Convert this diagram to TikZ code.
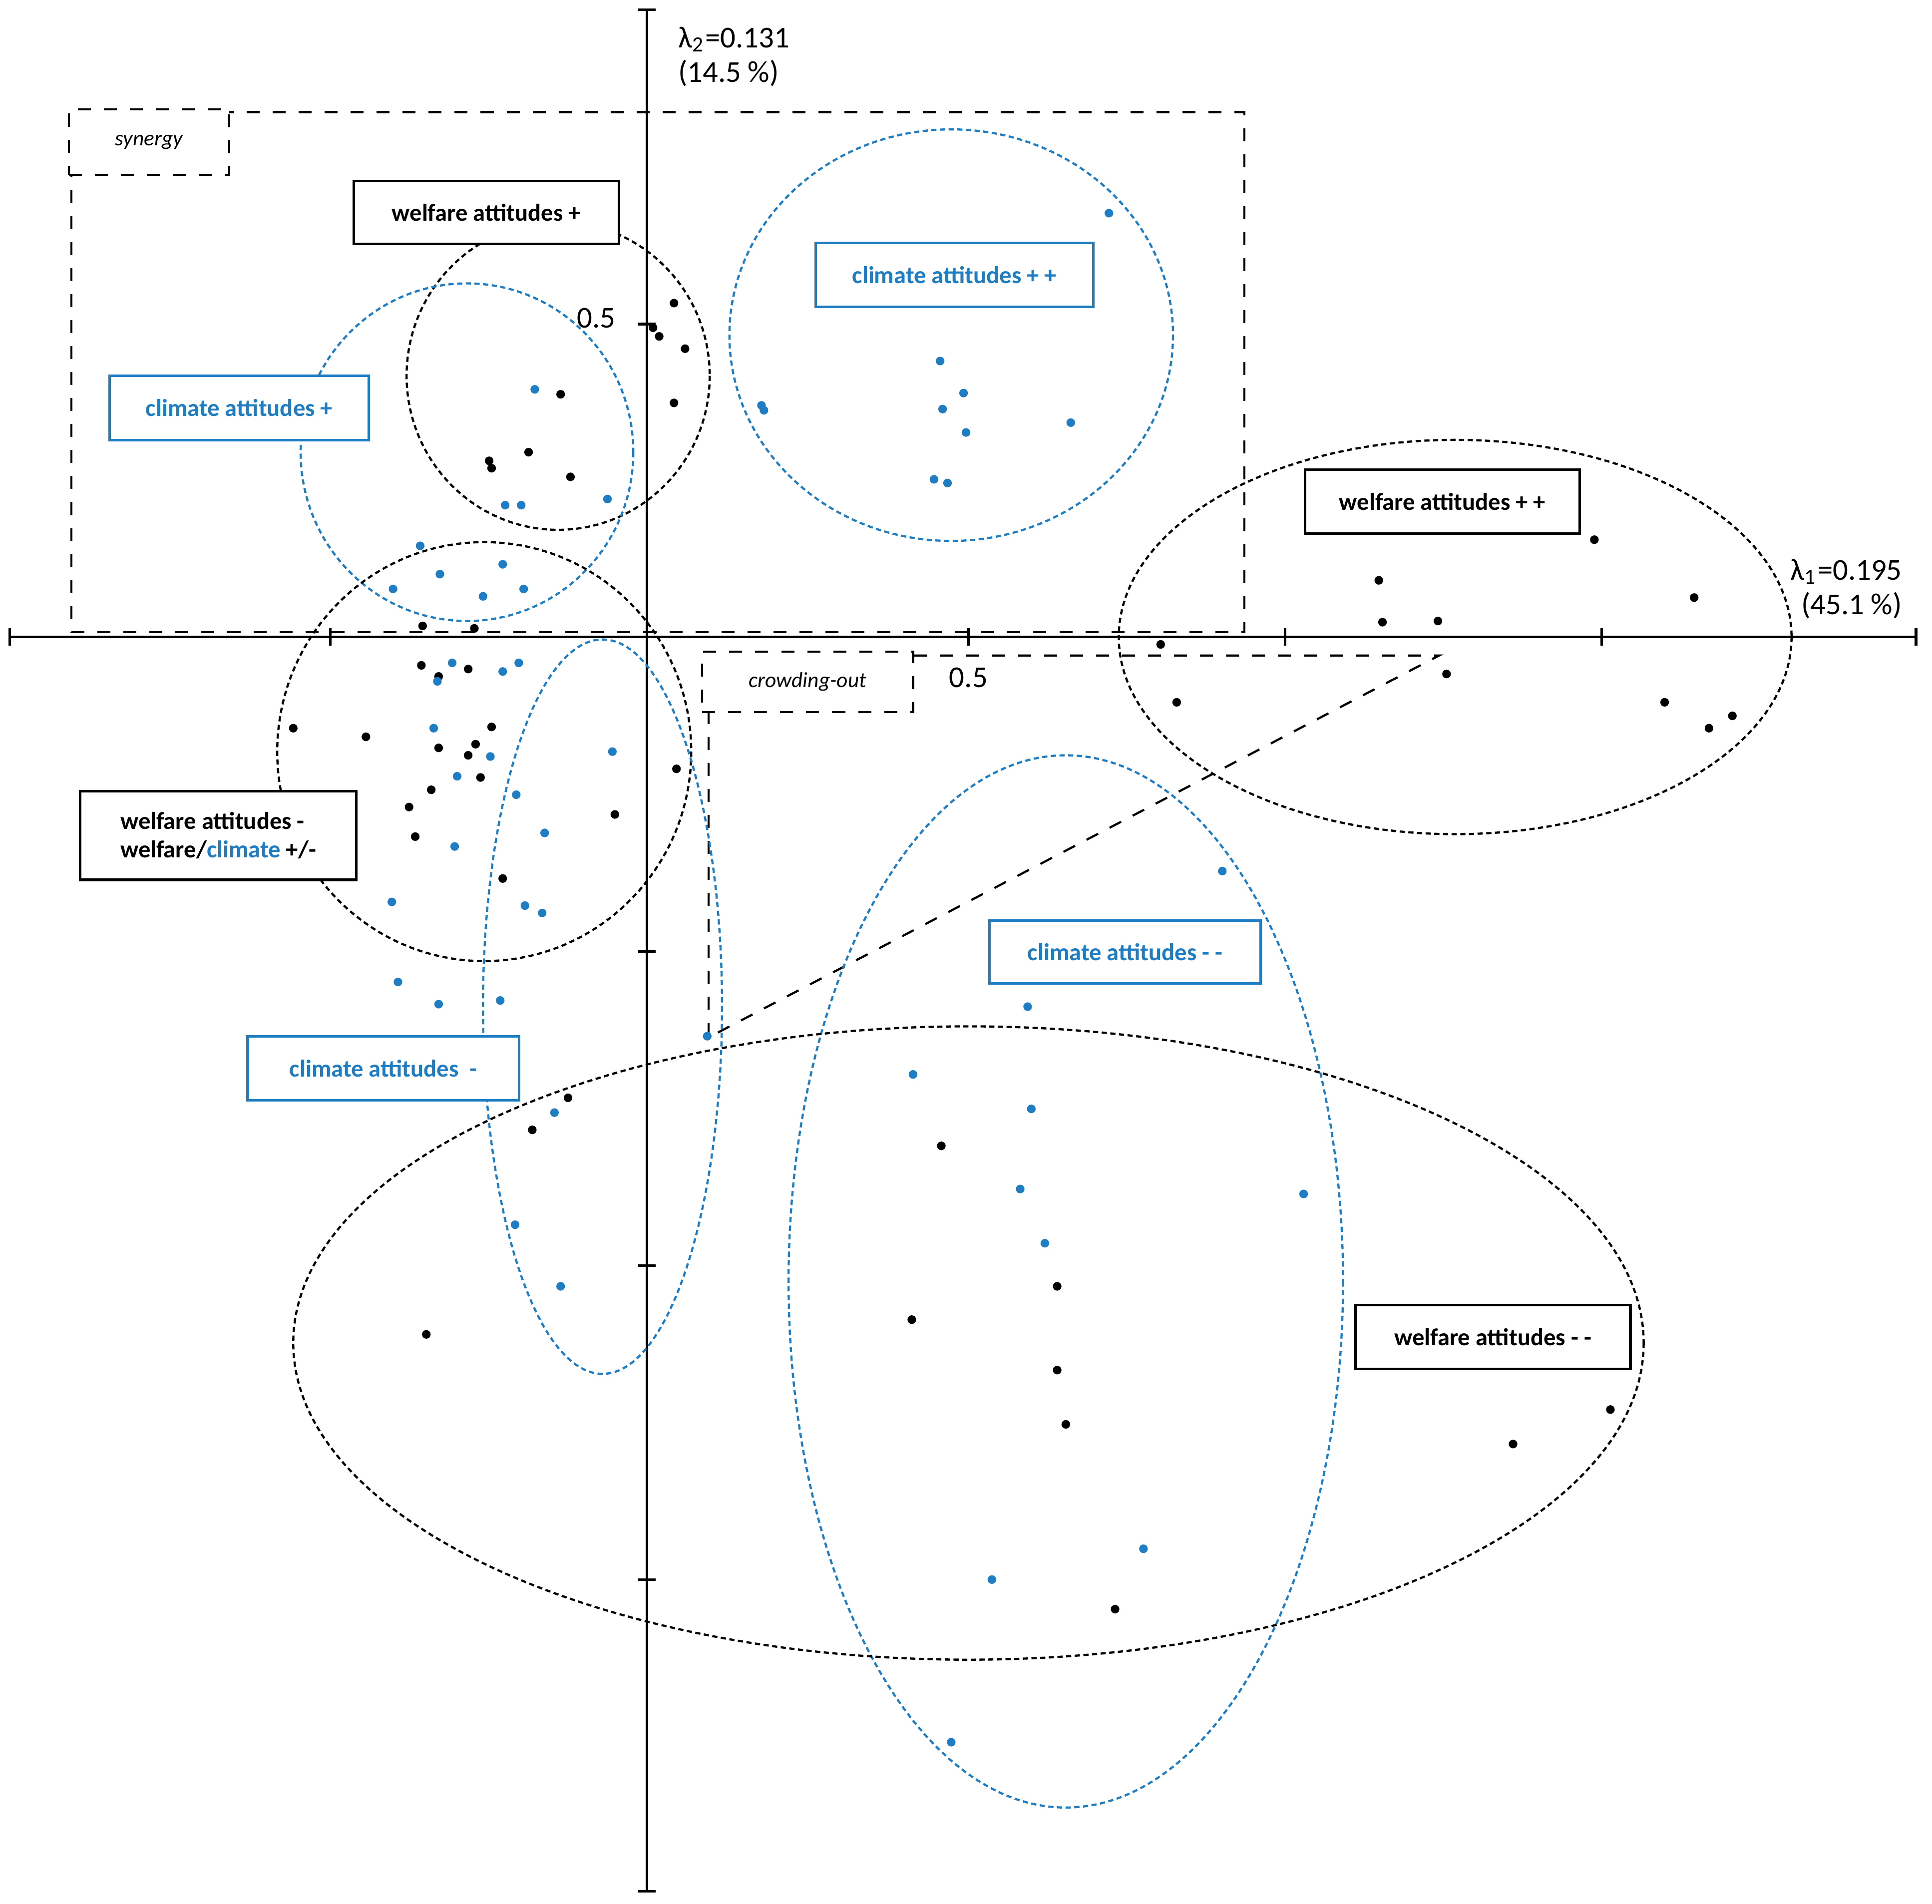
\documentclass[tikz,border=0pt]{standalone}
\usepackage{fontspec}
\setmainfont{Carlito}
\begin{document}
\definecolor{cb}{RGB}{30,125,195}
\begin{tikzpicture}[x=0.01cm,y=-0.01cm,
 bell/.style={black,dash pattern=on 1.2pt off 0.8pt,line width=0.5pt},
 blell/.style={cb,dash pattern=on 1.2pt off 0.8pt,line width=0.5pt},
 bbox/.style={draw=black,line width=0.6pt,fill=white,font=\fontsize{5.6}{6.5}\selectfont\bfseries,anchor=north west,inner sep=0pt},
 blbox/.style={draw=cb,line width=0.6pt,fill=white,text=cb,font=\fontsize{5.6}{6.5}\selectfont\bfseries,anchor=north west,inner sep=0pt},
 dbox/.style={draw=black,dashed,line width=0.5pt,fill=white,font=\fontsize{5}{6}\selectfont\itshape,anchor=north west,inner sep=0pt},
 ax/.style={font=\fontsize{7}{8}\selectfont},
 bd/.style={fill=black,circle,inner sep=0pt,minimum size=0.07cm},
 cd/.style={fill=cb,circle,inner sep=0pt,minimum size=0.07cm}]
\useasboundingbox (0,0) rectangle (1568,1545);
% axes
\draw[line width=0.6pt] (8,517) -- (1555,517);
\draw[line width=0.6pt] (525,8) -- (525,1535);
\foreach \x in {268,786,1043,1300} \draw[line width=0.6pt] (\x,510) -- (\x,524);
\foreach \y in {263,772,1027,1282} \draw[line width=0.6pt] (518,\y) -- (532,\y);
\draw[line width=0.6pt] (518,8) -- (532,8) (518,1535) -- (532,1535) (8,510) -- (8,524) (1555,510)--(1555,524);
\node[ax,anchor=east] (t1) at (512,258) {0.5};
\node[ax] (t2) at (786,550) {0.5};
\node[ax,anchor=west,align=left] (l2) at (538,46) {λ\textsubscript{2}=0.131\\(14.5 \%)};
\node[ax,anchor=east,align=right] (l1) at (1556,478) {λ\textsubscript{1}=0.195\\(45.1 \%)};
% synergy
\draw[dashed,line width=0.5pt] (58,91) rectangle (1010,513);
\node[dbox,minimum width=1.30cm,minimum height=0.53cm] (syn) at (55,88) {synergy};
% crowding out
\coordinate (c1) at (1168,532);
\coordinate (c2) at (575,842);
\node[dbox,minimum width=1.71cm,minimum height=0.49cm] (co) at (569,528) {crowding-out};
\draw[dashed,line width=0.5pt] (co.north east |- 0,532) -- (c1) -- (c2);
\draw[dashed,line width=0.5pt] (575,577) -- (c2);
% ellipses
\draw[bell] (453,305) ellipse [x radius=123,y radius=125];
\draw[blell] (379,367) ellipse [x radius=135,y radius=137];
\draw[blell] (772,272) ellipse [x radius=180,y radius=167];
\draw[bell] (1181,517) ellipse [x radius=273,y radius=160];
\draw[bell] (393,610) ellipse [x radius=168,y radius=170];
\draw[blell] (489,817) ellipse [x radius=97,y radius=298];
\draw[blell] (865,1040) ellipse [x radius=225,y radius=427];
\draw[bell] (786,1090) ellipse [x radius=548,y radius=257];
% points
\foreach \p [count=\i] in {(547,246),(530,266),(535,273),(556,283),(547,327),(455,320),(397,374),(399,380),(429,367),(463,387),(1294,438),(1119,471),(1375,485),(1122,505),(1167,504),(942,523),(1174,547),(955,570),(1351,570),(1406,581),(1387,591),(343,508),(385,510),(342,540),(356,549),(380,543),(238,591),(297,598),(399,590),(356,607),(386,604),(380,613),(390,631),(549,624),(350,641),(332,655),(499,661),(337,679),(408,713),(461,891),(432,917),(764,930),(346,1083),(858,1044),(740,1071),(858,1112),(865,1156),(1307,1144),(1228,1172),(905,1306)}
 \node[bd] (b\i) at \p {};
\foreach \p [count=\i] in {(900,173),(434,316),(618,329),(620,333),(763,293),(782,319),(765,332),(784,351),(869,343),(758,389),(769,392),(410,410),(423,410),(493,405),(341,443),(357,466),(408,458),(319,478),(392,484),(425,478),(367,538),(408,545),(421,538),(355,553),(352,591),(398,614),(371,630),(497,610),(419,645),(442,676),(369,687),(318,732),(426,735),(440,741),(323,797),(356,815),(406,812),(992,707),(834,817),(574,841),(741,872),(837,900),(450,903),(828,965),(1058,969),(848,1009),(418,994),(455,1044),(928,1257),(805,1282),(772,1414)}
 \node[cd] (c\i) at \p {};
% labels
\node[bbox,minimum width=2.15cm,minimum height=0.51cm] (w1) at (286,146) {welfare attitudes +};
\node[blbox,minimum width=2.25cm,minimum height=0.52cm] (k2) at (661,196) {climate attitudes + +};
\node[blbox,minimum width=2.10cm,minimum height=0.52cm] (k1) at (88,304) {climate attitudes +};
\node[bbox,minimum width=2.23cm,minimum height=0.52cm] (w2) at (1058,380) {welfare attitudes + +};
\node[bbox,minimum width=2.24cm,minimum height=0.72cm,align=left] (w3) at (64,641) {welfare attitudes -\\welfare/\textcolor{cb}{climate} +/-};
\node[blbox,minimum width=2.20cm,minimum height=0.51cm] (k4) at (802,746) {climate attitudes -{} -};
\node[blbox,minimum width=2.20cm,minimum height=0.52cm] (k3) at (200,840) {climate attitudes \ -};
\node[bbox,minimum width=2.23cm,minimum height=0.52cm] (w4) at (1099,1058) {welfare attitudes -{} -};
\end{tikzpicture}
\end{document}
